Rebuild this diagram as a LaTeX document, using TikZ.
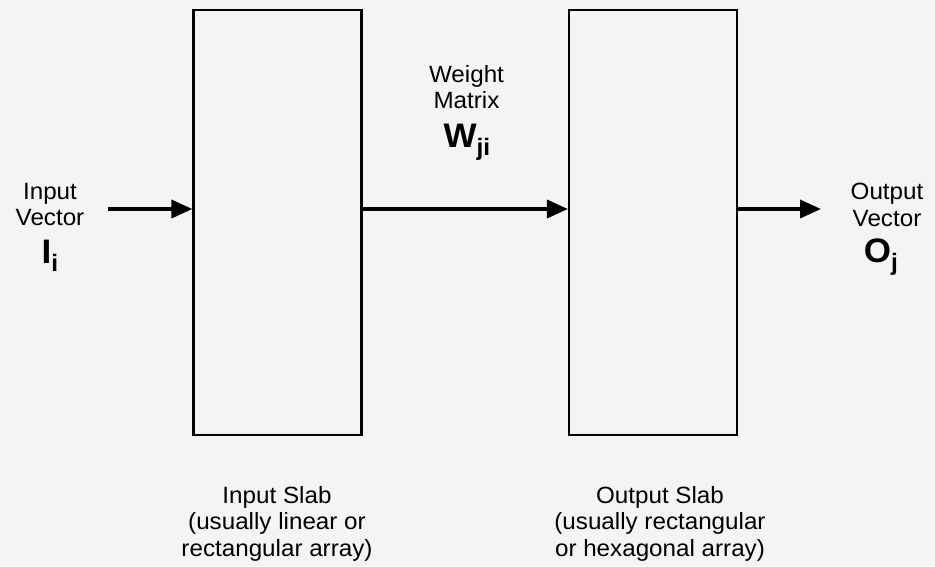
\documentclass[tikz,border=0pt]{standalone}
\usepackage{fontspec}
\setmainfont{Liberation Sans}[FakeStretch=1.03]
\usetikzlibrary{arrows.meta}
\definecolor{bg}{HTML}{F4F4F4}
\tikzset{
  slab/.style={draw=black, line width=2.2pt, minimum width=168pt, minimum height=425pt, inner sep=0pt},
  flow/.style={line width=3.6pt, -{Triangle[length=21pt,width=18pt]}},
  lbl/.style={align=center, font=\fontsize{23.5}{26.5}\selectfont, inner sep=0pt, anchor=north},
  sym/.style={font=\fontsize{34}{34}\selectfont\bfseries, inner sep=0pt, anchor=base},
  slabcaption/.style={align=center, font=\fontsize{23.5}{26.5}\selectfont, inner sep=0pt, anchor=north}
}
\begin{document}
\begin{tikzpicture}[x=1pt,y=-1pt]
\fill[bg] (0,0) rectangle (935,566);
\useasboundingbox (0,0) rectangle (935,566);
\node[slab] (inslab) at (277.5,222.5) {};
\node[slab] (outslab) at (653,222.5) {};
\coordinate (instart) at (108,209);
\coordinate (outend) at (821,209);
\draw[flow] (instart) -- (instart -| inslab.west);
\draw[flow] (inslab.east |- instart) -- (outslab.west |- instart);
\draw[flow] (outslab.east |- instart) -- (outend);
\node[lbl] (invec) at (50,183) {Input\\Vector};
\node[sym] (isym) at (50,263) {I$_{\mathbf{i}}$};
\node[lbl] (wm) at (466.5,65) {Weight\\Matrix};
\node[sym] (wsym) at (467,147) {W$_{\mathbf{ji}}$};
\node[lbl] (outvec) at (887,183) {Output\\Vector};
\node[sym] (osym) at (881,262) {O$_{\mathbf{j}}$};
\node[slabcaption] (incap) at (277,486) {Input Slab\\(usually linear or\\rectangular array)};
\node[slabcaption] (outcap) at (660,486) {Output Slab\\(usually rectangular\\or hexagonal array)};
\end{tikzpicture}
\end{document}
